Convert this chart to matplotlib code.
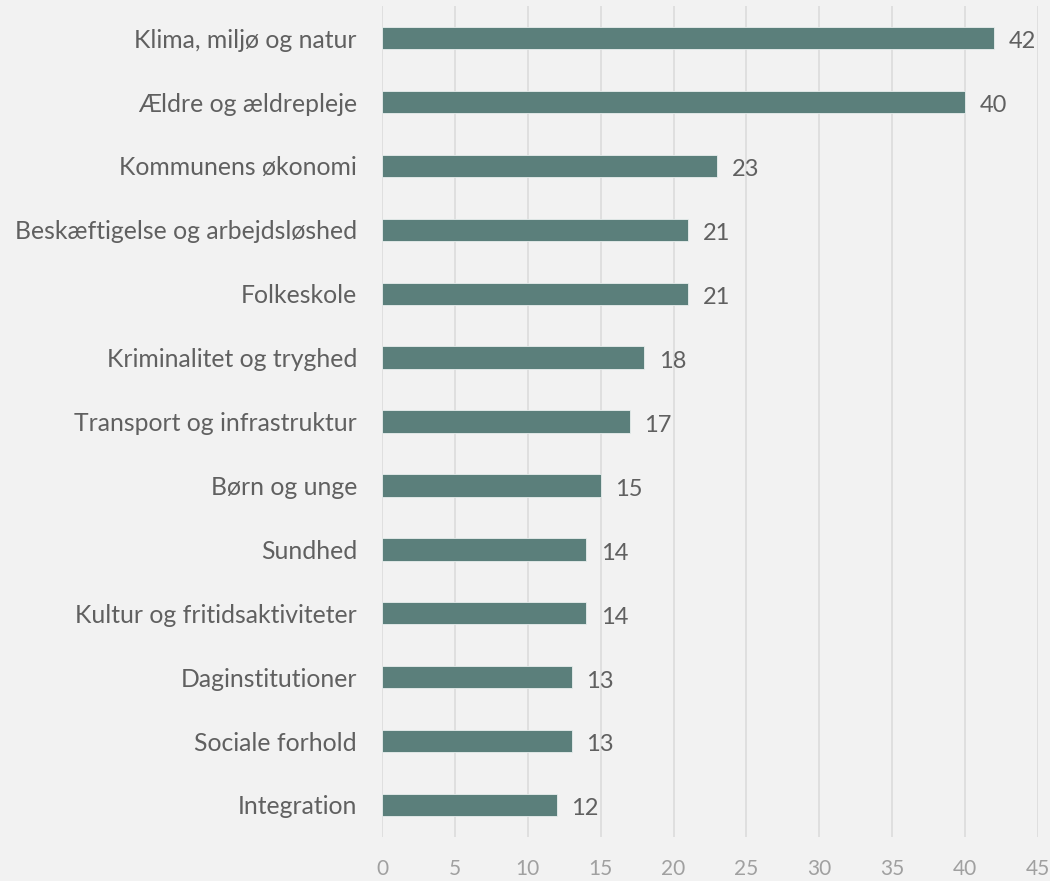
import matplotlib
matplotlib.use("Agg")
import matplotlib.pyplot as plt

categories = [
    "Klima, miljø og natur",
    "Ældre og ældrepleje",
    "Kommunens økonomi",
    "Beskæftigelse og arbejdsløshed",
    "Folkeskole",
    "Kriminalitet og tryghed",
    "Transport og infrastruktur",
    "Børn og unge",
    "Sundhed",
    "Kultur og fritidsaktiviteter",
    "Daginstitutioner",
    "Sociale forhold",
    "Integration",
]
values = [42, 40, 23, 21, 21, 18, 17, 15, 14, 14, 13, 13, 12]
xticks = [0, 5, 10, 15, 20, 25, 30, 35, 40, 45]

BG = "#f2f2f2"
BAR = "#5b7f7b"

plt.rcParams["font.family"] = ["Lato", "DejaVu Sans"]

fig = plt.figure(figsize=(10.5, 8.81), dpi=100, facecolor=BG)
ax = fig.add_axes([0.3638, 0.050, 0.6248, 0.943], facecolor=BG)

y = list(range(len(categories)))
ax.barh(y, values, height=0.35, color=BAR, edgecolor="#e8eeed", linewidth=0.6, zorder=3)

# value labels just right of each bar
for yi, v in zip(y, values):
    ax.text(v + 1.0, yi + 0.06, str(v), va="center", ha="left", fontsize=17,
            color="#606060", zorder=4)

ax.set_ylim(len(categories) - 0.5, -0.5)
ax.set_xlim(0, 45)
ax.set_xticks(xticks)
ax.set_yticks(y)
ax.set_yticklabels(categories, fontsize=17.8, color="#606060")
ax.tick_params(axis="y", length=0, pad=18)
ax.tick_params(axis="x", length=0, pad=16, labelsize=15, labelcolor="#a0a0a0")
ax.grid(axis="x", color="#dcdcdc", linewidth=1.2, zorder=0)
for s in ax.spines.values():
    s.set_visible(False)

fig.savefig("out.png", dpi=100, facecolor=BG)
